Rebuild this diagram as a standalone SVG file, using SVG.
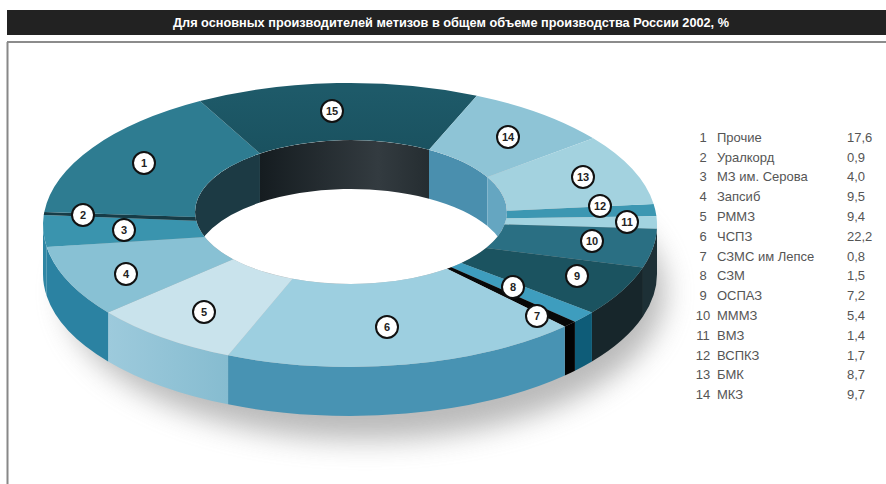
<svg xmlns="http://www.w3.org/2000/svg" width="886" height="484" viewBox="0 0 886 484">
<defs>
<style>
.lbl circle{fill:#fff;stroke:#111;stroke-width:2}
.lbl text{font-family:"Liberation Sans",Arial,sans-serif;font-size:11px;font-weight:bold;fill:#222;text-anchor:middle}
.leg text{font-family:"Liberation Sans",Arial,sans-serif;font-size:13px;fill:#555}
.leg .n{text-anchor:middle}
</style>
<filter id="blur" x="-20%" y="-30%" width="140%" height="160%"><feGaussianBlur stdDeviation="14"/></filter>
<clipPath id="hole"><ellipse cx="351" cy="212" rx="156" ry="72"/></clipPath>
<linearGradient id="g15w" x1="260" y1="0" x2="429" y2="0" gradientUnits="userSpaceOnUse">
<stop offset="0" stop-color="#151c20"/><stop offset="0.7" stop-color="#333b40"/><stop offset="1" stop-color="#252d31"/>
</linearGradient>
<linearGradient id="g5s" x1="108" y1="0" x2="228" y2="0" gradientUnits="userSpaceOnUse">
<stop offset="0" stop-color="#9dcadc"/><stop offset="1" stop-color="#86bcd0"/>
</linearGradient>
<linearGradient id="g15t" x1="0" y1="90" x2="0" y2="150" gradientUnits="userSpaceOnUse">
<stop offset="0" stop-color="#1e5a69"/><stop offset="1" stop-color="#1a5260"/>
</linearGradient>
</defs>

<rect width="886" height="484" fill="#fff"/>
<rect x="7" y="10" width="879" height="25" fill="#222"/>
<text x="451" y="26.5" text-anchor="middle" font-family="Liberation Sans, Arial, sans-serif" font-size="12" font-weight="bold" fill="#fff" textLength="556" lengthAdjust="spacingAndGlyphs">Для основных производителей метизов в общем объеме производства России 2002, %</text>
<line x1="7" y1="42" x2="886" y2="42" stroke="#666" stroke-width="1.5"/>
<line x1="7.5" y1="42" x2="7.5" y2="484" stroke="#888" stroke-width="2"/>

<!-- shadow -->
<ellipse cx="365" cy="292" rx="300" ry="148" fill="#8c8c8c" opacity="0.6" filter="url(#blur)"/>

<!-- outer side walls -->
<g id="sides">
<path fill="#1d3036" d="M 657 225 A 307 142 0 0 1 642.95 267.46 L 642.95 316.46 A 307 142 0 0 0 657 274 Z"/>
<path fill="#17262b" d="M 642.95 267.46 A 307 142 0 0 1 591.92 312.42 L 591.92 361.42 A 307 142 0 0 0 642.95 316.46 Z"/>
<path fill="#0e5c78" d="M 591.92 312.42 A 307 142 0 0 1 574.89 321.66 L 574.89 370.66 A 307 142 0 0 0 591.92 361.42 Z"/>
<path fill="#030303" d="M 574.89 321.66 A 307 142 0 0 1 564.80 326.45 L 564.80 375.45 A 307 142 0 0 0 574.89 370.66 Z"/>
<path fill="#4893b3" d="M 564.80 326.45 A 307 142 0 0 1 228.07 355.32 L 228.07 404.32 A 307 142 0 0 0 564.80 375.45 Z"/>
<path fill="url(#g5s)" d="M 228.07 355.32 A 307 142 0 0 1 108.08 312.42 L 108.08 361.42 A 307 142 0 0 0 228.07 404.32 Z"/>
<path fill="#2b82a2" d="M 108.08 312.42 A 307 142 0 0 1 46.70 246.97 L 46.70 295.97 A 307 142 0 0 0 108.08 361.42 Z"/>
<path fill="#2f86a4" d="M 46.70 246.97 A 307 142 0 0 1 43 225 L 43 274 A 307 142 0 0 0 46.70 295.97 Z"/>
</g>

<!-- hole floor and inner walls -->
<ellipse cx="351" cy="212" rx="156" ry="72" fill="#fff"/>
<g id="innerwalls" clip-path="url(#hole)">
<path fill="#1c3a44" d="M 195 212 A 156 72 0 0 1 259.97 153.53 L 259.97 202.53 A 156 72 0 0 0 195 261 Z"/>
<path fill="url(#g15w)" d="M 259.97 153.53 A 156 72 0 0 1 429 149.65 L 429 198.65 A 156 72 0 0 0 259.97 202.53 Z"/>
<path fill="#4a8fae" d="M 429 149.65 A 156 72 0 0 1 487.44 177.09 L 487.44 226.09 A 156 72 0 0 0 429 198.65 Z"/>
<path fill="#65a6c1" d="M 487.44 177.09 A 156 72 0 0 1 507 212 L 507 261 A 156 72 0 0 0 487.44 226.09 Z"/>
</g>

<!-- top faces -->
<g id="slice-12"><path fill="#3c97b2" d="M 653.63 204.01 A 307 142 0 0 1 656.43 216.33 L 506.41 218.28 A 156 72 0 0 0 506.98 210.74 Z"/></g>
<g id="slice-11"><path fill="#a2d3e0" d="M 656.43 216.33 A 307 142 0 0 1 656.90 228.72 L 504.63 224.50 A 156 72 0 0 0 506.41 218.28 Z"/></g>
<g id="slice-10"><path fill="#2a6f83" d="M 656.90 228.72 A 307 142 0 0 1 642.95 267.46 L 486.10 248.00 A 156 72 0 0 0 504.63 224.50 Z"/></g>
<g id="slice-9"><path fill="#1b5360" d="M 642.95 267.46 A 307 142 0 0 1 591.92 312.42 L 461.31 262.91 A 156 72 0 0 0 486.10 248.00 Z"/></g>
<g id="slice-8"><path fill="#3e9dbe" d="M 591.92 312.42 A 307 142 0 0 1 574.89 321.66 L 451.28 267.15 A 156 72 0 0 0 461.31 262.91 Z"/></g>
<g id="slice-7"><path fill="#080808" d="M 574.89 321.66 A 307 142 0 0 1 564.80 326.45 L 447.04 268.74 A 156 72 0 0 0 451.28 267.15 Z"/></g>
<g id="slice-6"><path fill="#9dcfe0" d="M 564.80 326.45 A 307 142 0 0 1 228.07 355.32 L 292.56 278.76 A 156 72 0 0 0 447.04 268.74 Z"/></g>
<g id="slice-5"><path fill="#c9e3ec" d="M 228.07 355.32 A 307 142 0 0 1 108.08 312.42 L 233.09 259.14 A 156 72 0 0 0 292.56 278.76 Z"/></g>
<g id="slice-4"><path fill="#88c1d4" d="M 108.08 312.42 A 307 142 0 0 1 46.70 246.97 L 204.69 236.98 A 156 72 0 0 0 233.09 259.14 Z"/></g>
<g id="slice-3"><path fill="#3a94ae" d="M 46.70 246.97 A 307 142 0 0 1 43.75 215.09 L 196.16 220.77 A 156 72 0 0 0 204.69 236.98 Z"/></g>
<g id="slice-2"><path fill="#163c47" d="M 43.75 215.09 A 307 142 0 0 1 44.29 212.01 L 195.38 217.02 A 156 72 0 0 0 196.16 220.77 Z"/></g>
<g id="slice-1"><path fill="#2e7c91" d="M 44.29 212.01 A 307 142 0 0 1 199.99 101.10 L 259.97 153.53 A 156 72 0 0 0 195.38 217.02 Z"/></g>
<g id="slice-15"><path fill="url(#g15t)" d="M 199.99 101.10 A 307 142 0 0 1 476.82 95.68 L 429 149.65 A 156 72 0 0 0 259.97 153.53 Z"/></g>
<g id="slice-14"><path fill="#8ec4d6" d="M 476.82 95.68 A 307 142 0 0 1 593.23 138.36 L 487.44 177.09 A 156 72 0 0 0 429 149.65 Z"/></g>
<g id="slice-13"><path fill="#a3d2df" d="M 593.23 138.36 A 307 142 0 0 1 653.63 204.01 L 506.98 210.74 A 156 72 0 0 0 487.44 177.09 Z"/></g>

<!-- labels -->
<g class="lbl">
<g id="label-15"><circle cx="332" cy="111" r="11"/><text x="332" y="115">15</text></g>
<g id="label-1"><circle cx="144" cy="163" r="11"/><text x="144" y="167">1</text></g>
<g id="label-2"><circle cx="83" cy="215" r="11"/><text x="83" y="219">2</text></g>
<g id="label-3"><circle cx="124" cy="230" r="11"/><text x="124" y="234">3</text></g>
<g id="label-4"><circle cx="126" cy="274" r="11"/><text x="126" y="278">4</text></g>
<g id="label-5"><circle cx="204" cy="312" r="11"/><text x="204" y="316">5</text></g>
<g id="label-6"><circle cx="387" cy="327" r="11"/><text x="387" y="331">6</text></g>
<g id="label-7"><circle cx="537" cy="316" r="11"/><text x="537" y="320">7</text></g>
<g id="label-8"><circle cx="513" cy="287" r="11"/><text x="513" y="291">8</text></g>
<g id="label-9"><circle cx="577" cy="276" r="11"/><text x="577" y="280">9</text></g>
<g id="label-10"><circle cx="592" cy="241" r="11"/><text x="592" y="245">10</text></g>
<g id="label-11"><circle cx="627" cy="222" r="11"/><text x="627" y="226">11</text></g>
<g id="label-12"><circle cx="600" cy="206" r="11"/><text x="600" y="210">12</text></g>
<g id="label-13"><circle cx="583" cy="177" r="11"/><text x="583" y="181">13</text></g>
<g id="label-14"><circle cx="508" cy="137" r="11"/><text x="508" y="141">14</text></g>
</g>

<!-- legend -->
<g id="legend" class="leg">
<text class="n" x="703" y="141.7">1</text><text x="717" y="141.7">Прочие</text><text x="847" y="141.7">17,6</text>
<text class="n" x="703" y="161.5">2</text><text x="717" y="161.5">Уралкорд</text><text x="847" y="161.5">0,9</text>
<text class="n" x="703" y="181.3">3</text><text x="717" y="181.3">МЗ им. Серова</text><text x="847" y="181.3">4,0</text>
<text class="n" x="703" y="201.1">4</text><text x="717" y="201.1">Запсиб</text><text x="847" y="201.1">9,5</text>
<text class="n" x="703" y="220.9">5</text><text x="717" y="220.9">РММЗ</text><text x="847" y="220.9">9,4</text>
<text class="n" x="703" y="240.7">6</text><text x="717" y="240.7">ЧСПЗ</text><text x="847" y="240.7">22,2</text>
<text class="n" x="703" y="260.5">7</text><text x="717" y="260.5">СЗМС им Лепсе</text><text x="847" y="260.5">0,8</text>
<text class="n" x="703" y="280.3">8</text><text x="717" y="280.3">СЗМ</text><text x="847" y="280.3">1,5</text>
<text class="n" x="703" y="300.1">9</text><text x="717" y="300.1">ОСПАЗ</text><text x="847" y="300.1">7,2</text>
<text class="n" x="703" y="319.9">10</text><text x="717" y="319.9">МММЗ</text><text x="847" y="319.9">5,4</text>
<text class="n" x="703" y="339.7">11</text><text x="717" y="339.7">ВМЗ</text><text x="847" y="339.7">1,4</text>
<text class="n" x="703" y="359.5">12</text><text x="717" y="359.5">ВСПКЗ</text><text x="847" y="359.5">1,7</text>
<text class="n" x="703" y="379.3">13</text><text x="717" y="379.3">БМК</text><text x="847" y="379.3">8,7</text>
<text class="n" x="703" y="399.1">14</text><text x="717" y="399.1">МКЗ</text><text x="847" y="399.1">9,7</text>
</g>
</svg>
